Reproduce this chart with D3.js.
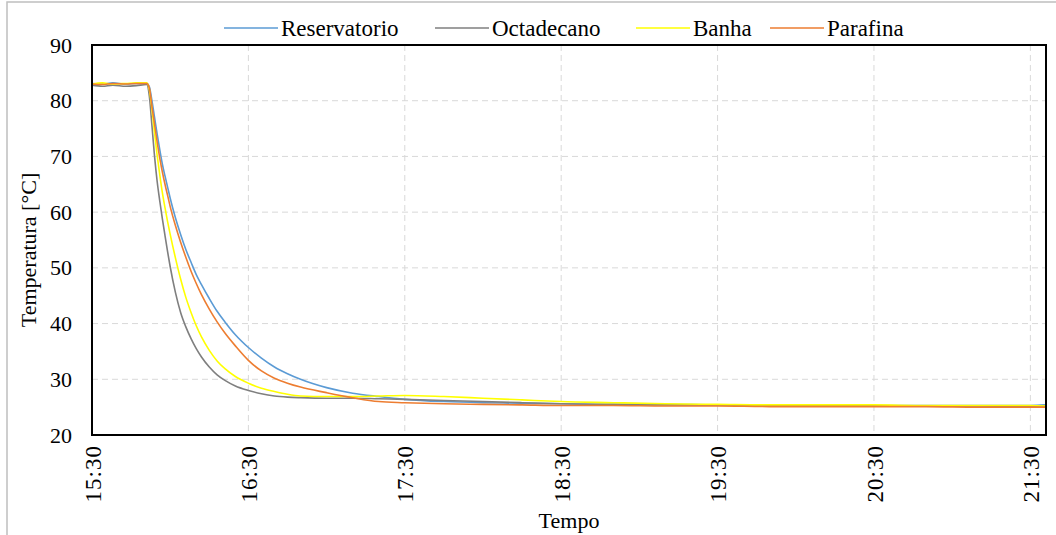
<!DOCTYPE html>
<html>
<head>
<meta charset="utf-8">
<script src="https://cdn.jsdelivr.net/npm/d3@7"></script>
<style>
  body { margin: 0; background: #fff; }
  svg { display: block; }
  text { font-family: "Liberation Serif", "Times New Roman", serif; fill: #000; }
</style>
</head>
<body>
<svg id="chart" width="1056" height="535"></svg>
<script>
// ---- data ----
const times = ["15:30","15:34","15:38","15:43","15:47","15:51","15:52","15:53","15:54","15:55","15:56","15:57","15:58","15:59","16:00","16:02","16:04","16:06","16:08","16:10","16:12","16:15","16:18","16:21","16:25","16:30","16:35","16:40","16:45","16:50","17:00","17:10","17:20","17:30","17:45","18:00","18:15","18:30","18:50","19:10","19:30","19:50","20:10","20:30","20:50","21:10","21:30","21:36"];

const reservatorio = [83.1,83.0,83.2,83.0,83.1,83.1,82.5,80.0,77.0,74.0,71.2,68.6,66.5,64.5,62.5,59.0,56.0,53.3,51.0,48.8,47.0,44.5,42.2,40.3,38.0,35.7,33.8,32.2,31.0,30.0,28.5,27.5,26.9,26.4,26.0,25.8,25.7,25.6,25.5,25.5,25.4,25.4,25.4,25.3,25.3,25.3,25.3,25.4];
const octadecano   = [82.8,82.6,82.8,82.6,82.7,82.9,80.8,75.5,70.0,65.5,62.0,58.8,55.8,52.9,50.2,45.6,42.0,39.4,37.3,35.5,34.0,32.2,30.8,29.8,28.8,28.0,27.4,27.0,26.8,26.7,26.6,26.6,26.5,26.4,26.2,26.0,25.8,25.6,25.5,25.4,25.4,25.3,25.3,25.2,25.2,25.2,25.1,25.1];
const banha        = [83.0,83.2,83.0,83.1,83.2,83.2,82.0,78.5,74.2,70.2,66.7,63.5,60.8,58.3,56.0,51.8,48.0,44.7,42.0,39.6,37.6,35.2,33.3,31.9,30.5,29.3,28.4,27.8,27.3,27.0,26.9,26.9,27.0,27.1,26.9,26.6,26.3,26.0,25.8,25.6,25.5,25.4,25.4,25.4,25.3,25.3,25.3,25.2];
const parafina     = [83.0,82.9,83.1,83.0,83.1,83.1,82.3,79.0,75.8,72.6,69.7,67.2,65.0,63.0,61.0,57.6,54.6,51.9,49.4,47.2,45.2,42.6,40.3,38.3,36.0,33.4,31.5,30.2,29.3,28.6,27.6,26.7,26.0,25.8,25.6,25.5,25.4,25.3,25.3,25.2,25.2,25.1,25.1,25.1,25.1,25.0,25.0,25.0];

const seriesNames  = ["Reservatorio","Octadecano","Banha","Parafina"];
const seriesColors = ["#5B9BD5","#7F7F7F","#FFFF00","#ED7D31"];
const xTickLabels  = ["15:30","16:30","17:30","18:30","19:30","20:30","21:30"];
const yTicks       = [20,30,40,50,60,70,80,90];
const xDomain      = ["15:30","21:36"];

// ---- layout ----
const svg = d3.select("#chart");
const parse = d3.timeParse("%H:%M");
const fmt = d3.timeFormat("%H:%M");
const pL = 92, pR = 1046, pT = 45, pB = 435;

const x = d3.scaleTime().domain(xDomain.map(parse)).range([pL, pR]);
const y = d3.scaleLinear().domain([20, 90]).range([pB, pT]);

// outer chart border (only top/left visible in reference)
svg.append("rect").attr("x", 7).attr("y", 2).attr("width", 1100).attr("height", 600)
  .attr("fill", "none").attr("stroke", "#BFBFBF").attr("stroke-width", 1.5);

// gridlines
const grid = svg.append("g");
grid.selectAll("line.h").data(yTicks.filter(d => d > 20 && d < 90)).join("line")
  .attr("x1", pL).attr("x2", pR)
  .attr("y1", d => y(d)).attr("y2", d => y(d))
  .attr("stroke", "#D9D9D9").attr("stroke-width", 1).attr("stroke-dasharray", "6,4");
grid.selectAll("line.v").data(xTickLabels.slice(1).map(parse)).join("line")
  .attr("x1", d => x(d)).attr("x2", d => x(d))
  .attr("y1", pT).attr("y2", pB)
  .attr("stroke", "#D9D9D9").attr("stroke-width", 1).attr("stroke-dasharray", "6,4");

// series
const allSeries = [reservatorio, octadecano, banha, parafina];
const line = d3.line().curve(d3.curveMonotoneX).x((d, i) => x(parse(times[i]))).y(d => y(d));
allSeries.forEach((vals, k) => {
  svg.append("path").datum(vals)
    .attr("d", line)
    .attr("fill", "none")
    .attr("stroke", seriesColors[k])
    .attr("stroke-width", 1.6)
    .attr("stroke-linejoin", "round");
});

// plot frame
svg.append("rect").attr("x", pL).attr("y", pT)
  .attr("width", pR - pL).attr("height", pB - pT)
  .attr("fill", "none").attr("stroke", "#000").attr("stroke-width", 2);

// y axis
const yAxis = d3.axisLeft(y).tickValues(yTicks).tickSize(0).tickPadding(20).tickFormat(d3.format("d"));
const gy = svg.append("g").attr("transform", `translate(${pL},0)`).call(yAxis);
gy.select(".domain").remove();
gy.selectAll("text").style("font-size", "22px").style("font-family", "Liberation Serif");

// x axis
const xAxis = d3.axisBottom(x).tickValues(xTickLabels.map(parse)).tickSize(0).tickFormat(fmt);
const gx = svg.append("g").attr("transform", `translate(0,${pB})`).call(xAxis);
gx.select(".domain").remove();
gx.selectAll("text")
  .style("font-size", "23px").style("font-family", "Liberation Serif")
  .style("letter-spacing", "1px")
  .attr("text-anchor", "end")
  .attr("dy", "0.35em")
  .attr("transform", "rotate(-90)")
  .attr("x", -10).attr("y", 0);

// axis titles
svg.append("text").attr("x", (pL + pR) / 2).attr("y", 528)
  .attr("text-anchor", "middle").style("font-size", "22px").text("Tempo");
svg.append("text").attr("transform", `translate(36,250) rotate(-90)`)
  .attr("text-anchor", "middle").style("font-size", "22px").text("Temperatura [°C]");

// legend
const legendX = [224, 435, 636, 770];
const lg = svg.append("g");
seriesNames.forEach((name, k) => {
  lg.append("line").attr("x1", legendX[k]).attr("x2", legendX[k] + 54)
    .attr("y1", 28).attr("y2", 28)
    .attr("stroke", seriesColors[k]).attr("stroke-width", 1.6);
  lg.append("text").attr("x", legendX[k] + 57).attr("y", 36)
    .style("font-size", "23px").text(name);
});
</script>
</body>
</html>
